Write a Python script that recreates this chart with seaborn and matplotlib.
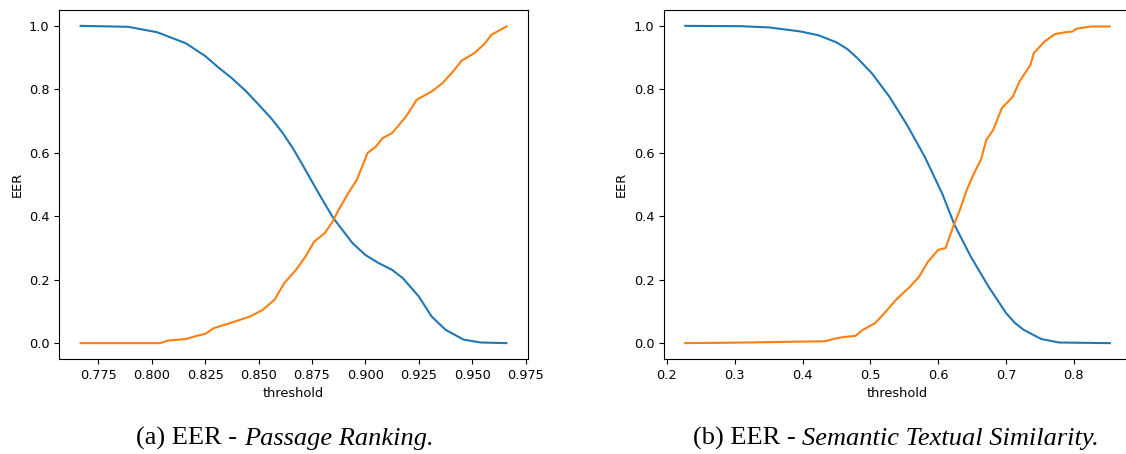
import numpy as np
import pandas as pd
import matplotlib
matplotlib.use('Agg')
import matplotlib.pyplot as plt
import seaborn as sns


# (a) Passage Ranking
pr_thr_blue = [0.7667, 0.789, 0.8025, 0.816, 0.825, 0.831, 0.8375, 0.844, 0.85, 0.856, 0.861,
               0.866, 0.871, 0.879, 0.885, 0.894, 0.900, 0.906, 0.9125, 0.9175, 0.925, 0.931,
               0.9375, 0.946, 0.954, 0.966]
pr_eer_blue = [1.0, 0.997, 0.98, 0.945, 0.905, 0.87, 0.835, 0.795, 0.752, 0.708, 0.665,
               0.615, 0.557, 0.462, 0.394, 0.315, 0.278, 0.253, 0.231, 0.205, 0.147, 0.084,
               0.042, 0.011, 0.002, 0.0]

pr_thr_orange = [0.7667, 0.804, 0.8075, 0.816, 0.821, 0.825, 0.829, 0.8375, 0.846, 0.852,
                 0.8575, 0.862, 0.8675, 0.872, 0.876, 0.881, 0.8842, 0.8875, 0.892, 0.896,
                 0.901, 0.905, 0.908, 0.9125, 0.919, 0.924, 0.931, 0.936, 0.941, 0.945,
                 0.951, 0.956, 0.959, 0.966]
pr_eer_orange = [0.0, 0.0, 0.008, 0.013, 0.023, 0.029, 0.047, 0.065, 0.084, 0.105,
                 0.137, 0.189, 0.231, 0.273, 0.320, 0.347, 0.378, 0.42, 0.473, 0.515,
                 0.599, 0.62, 0.646, 0.662, 0.714, 0.767, 0.793, 0.819, 0.856, 0.89,
                 0.914, 0.945, 0.972, 0.998]

# (b) Semantic Textual Similarity
sts_thr_blue = [0.227, 0.309, 0.351, 0.398, 0.424, 0.45, 0.466, 0.481, 0.502, 0.528, 0.554,
                0.58, 0.606, 0.624, 0.648, 0.674, 0.7, 0.713, 0.726, 0.752, 0.778, 0.853]
sts_eer_blue = [1.0, 0.999, 0.995, 0.982, 0.970, 0.948, 0.927, 0.898, 0.851, 0.777, 0.688,
                0.588, 0.471, 0.373, 0.273, 0.179, 0.095, 0.064, 0.042, 0.013, 0.002, 0.0]

sts_thr_orange = [0.227, 0.32, 0.372, 0.434, 0.445, 0.46, 0.478, 0.489, 0.507, 0.523,
                  0.538, 0.559, 0.572, 0.585, 0.6, 0.611, 0.616, 0.624, 0.632, 0.642,
                  0.653, 0.663, 0.671, 0.681, 0.694, 0.71, 0.72, 0.736, 0.741, 0.757,
                  0.772, 0.788, 0.798, 0.804, 0.825, 0.853]
sts_eer_orange = [0.0, 0.002, 0.004, 0.006, 0.013, 0.019, 0.023, 0.042, 0.063, 0.1,
                  0.137, 0.179, 0.21, 0.257, 0.294, 0.3, 0.331, 0.378, 0.42, 0.483,
                  0.536, 0.578, 0.641, 0.672, 0.741, 0.777, 0.825, 0.877, 0.914, 0.951,
                  0.974, 0.98, 0.982, 0.991, 0.998, 0.998]

captions = [("(a) EER - ", "Passage Ranking."),
            ("(b) EER - ", "Semantic Textual Similarity.")]


fig = plt.figure(figsize=(11.26, 4.54), dpi=100)
ax1 = fig.add_axes([59.3 / 1126, 1 - 359 / 454, 468.4 / 1126, 349 / 454])
ax2 = fig.add_axes([664 / 1126, 1 - 359 / 454, 467 / 1126, 349 / 454])

panels = [
    (ax1, pr_thr_blue, pr_eer_blue, pr_thr_orange, pr_eer_orange),
    (ax2, sts_thr_blue, sts_eer_blue, sts_thr_orange, sts_eer_orange),
]

for ax, xb, yb, xo, yo in panels:
    sns.lineplot(x=xb, y=yb, ax=ax, color='#1f77b4', linewidth=1.5, sort=False)
    sns.lineplot(x=xo, y=yo, ax=ax, color='#ff7f0e', linewidth=1.5, sort=False)
    ax.set_xlabel('threshold', fontsize=9.3)
    ax.set_ylabel('EER', fontsize=9.3)
    ax.tick_params(labelsize=9.3)
    ax.set_yticks([0.0, 0.2, 0.4, 0.6, 0.8, 1.0])

ax1.set_xticks([0.775, 0.8, 0.825, 0.85, 0.875, 0.9, 0.925, 0.95, 0.975])
ax2.set_xticks([0.2, 0.3, 0.4, 0.5, 0.6, 0.7, 0.8])

# captions: roman part + italic part, centred under each panel
fig.canvas.draw()
renderer = fig.canvas.get_renderer()
centres = [285, 896]
for (roman, italic), cx in zip(captions, centres):
    t1 = fig.text(0, 1 - 445 / 454, roman, fontsize=19,
                  family='Liberation Serif', ha='left', va='baseline')
    t2 = fig.text(0, 1 - 445 / 454, italic, fontsize=19,
                  family='Liberation Serif', style='italic', ha='left', va='baseline')
    w1 = t1.get_window_extent(renderer).width
    w2 = t2.get_window_extent(renderer).width
    x0 = cx - (w1 + w2) / 2
    t1.set_x(x0 / 1126)
    t2.set_x((x0 + w1) / 1126)

fig.savefig('out.png', dpi=100)
